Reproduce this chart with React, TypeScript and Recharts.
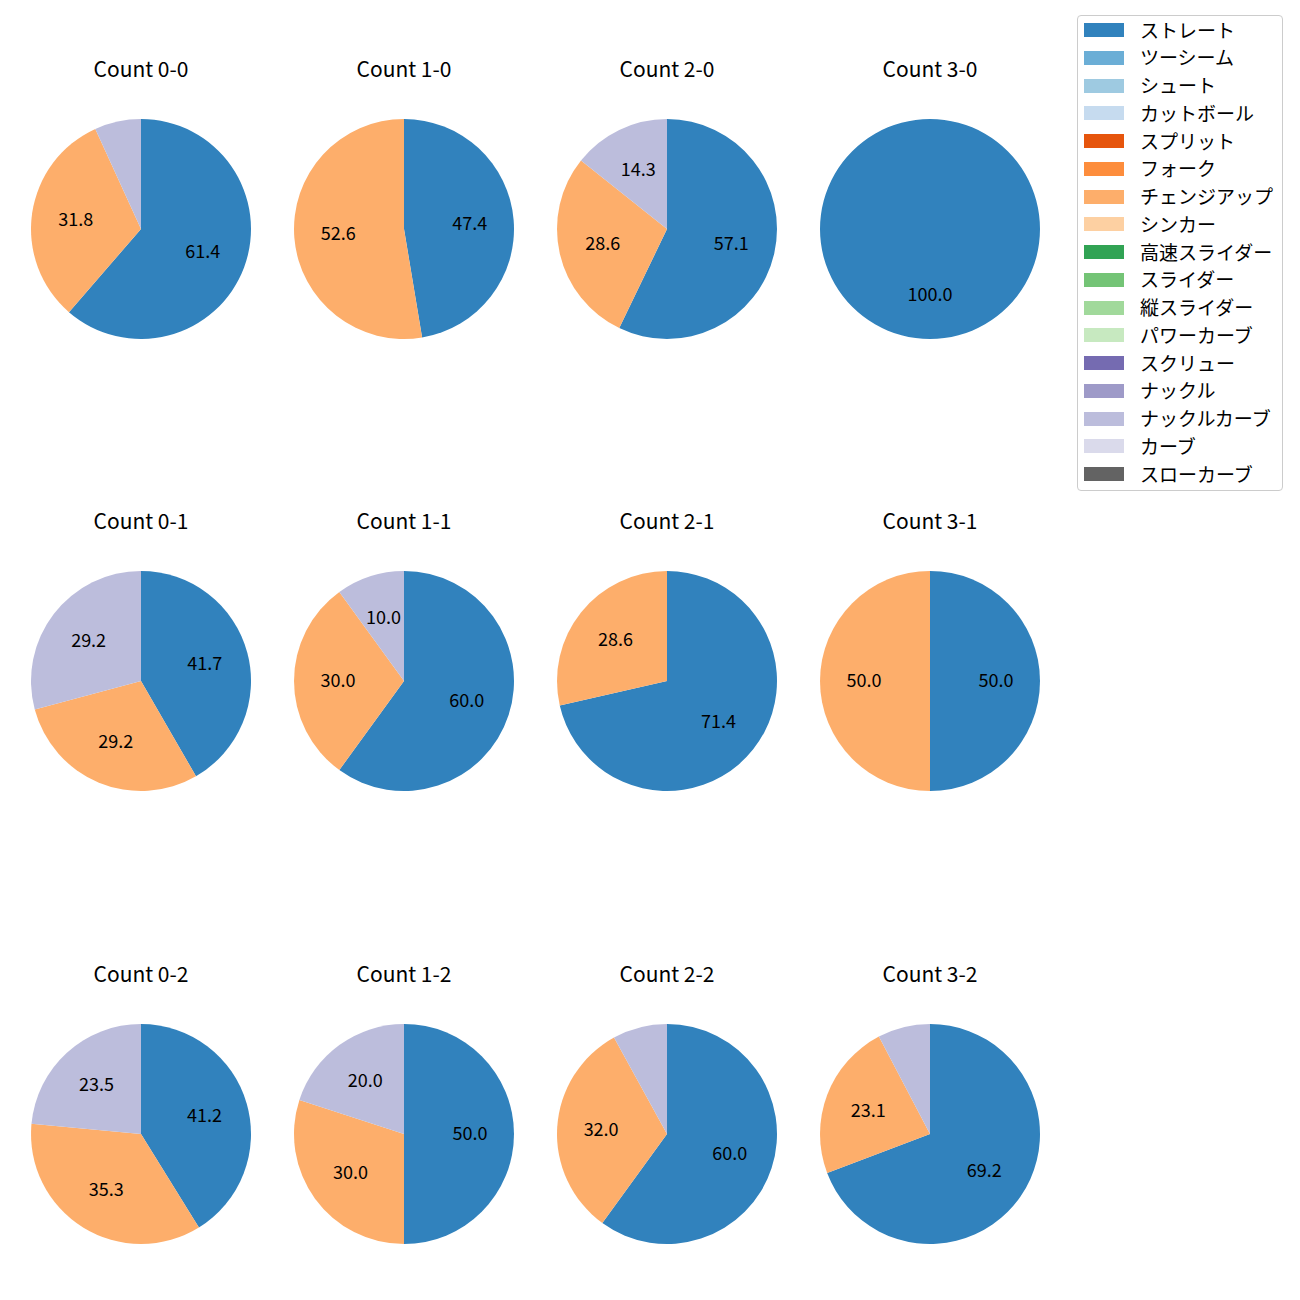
import React from 'react';
import { PieChart, Pie, Cell } from 'recharts';

const pitchNames = [
  'ストレート', 'ツーシーム', 'シュート', 'カットボール', 'スプリット', 'フォーク',
  'チェンジアップ', 'シンカー', '高速スライダー', 'スライダー', '縦スライダー',
  'パワーカーブ', 'スクリュー', 'ナックル', 'ナックルカーブ', 'カーブ', 'スローカーブ',
];
const pitchColors = [
  '#3182bd', '#6baed6', '#9ecae1', '#c6dbef', '#e6550d', '#fd8d3c',
  '#fdae6b', '#fdd0a2', '#31a354', '#74c476', '#a1d99b',
  '#c7e9c0', '#756bb1', '#9e9ac8', '#bcbddc', '#dadaeb', '#636363',
];

const counts = ['0-0', '1-0', '2-0', '3-0', '0-1', '1-1', '2-1', '3-1', '0-2', '1-2', '2-2', '3-2'];
// pitch counts: ストレート, チェンジアップ, ナックルカーブ
const straight = [27, 9, 4, 1, 10, 6, 5, 1, 7, 5, 15, 9];
const changeup = [14, 10, 2, 0, 7, 3, 2, 1, 6, 3, 8, 3];
const knuckleCurve = [3, 0, 1, 0, 7, 1, 0, 0, 4, 2, 2, 1];

const colX = [141, 404, 667, 930];
const rowY = [229, 681, 1134];
const R = 110;
const FONT = '"Noto Sans CJK JP", "Noto Sans", sans-serif';

const RAD = Math.PI / 180;

const renderLabel = (p: any) => {
  if (p.percent < 0.095) return null;
  const r = p.outerRadius * 0.6;
  const x = p.cx + r * Math.cos(-p.midAngle * RAD);
  const y = p.cy + r * Math.sin(-p.midAngle * RAD);
  return (
    <text x={x} y={y - 2} textAnchor="middle" dominantBaseline="central" fontSize={18} fill="#000" fontFamily={FONT}>
      {(p.percent * 100).toFixed(1)}
    </text>
  );
};

export default function App() {
  return (
    <div style={{ position: 'absolute', left: 0, top: 0, width: 1300, height: 1300, background: '#fff', fontFamily: FONT }}>
      <PieChart width={1300} height={1300} margin={{ top: 0, right: 0, bottom: 0, left: 0 }}>
        {counts.map((c, i) => {
          const data = [
            { name: pitchNames[0], value: straight[i], color: pitchColors[0] },
            { name: pitchNames[6], value: changeup[i], color: pitchColors[6] },
            { name: pitchNames[14], value: knuckleCurve[i], color: pitchColors[14] },
          ].filter((d) => d.value > 0);
          return (
            <Pie
              key={c}
              data={data}
              dataKey="value"
              cx={colX[i % 4]}
              cy={rowY[Math.floor(i / 4)]}
              outerRadius={R}
              startAngle={90}
              endAngle={-270}
              stroke="none"
              label={renderLabel}
              labelLine={false}
              isAnimationActive={false}
            >
              {data.map((d) => (
                <Cell key={d.name} fill={d.color} />
              ))}
            </Pie>
          );
        })}
      </PieChart>
      {counts.map((c, i) => (
        <div
          key={c}
          style={{
            position: 'absolute',
            left: colX[i % 4] - 100,
            width: 200,
            top: rowY[Math.floor(i / 4)] - 174,
            textAlign: 'center',
            fontSize: 21,
            lineHeight: '26px',
            color: '#000',
          }}
        >
          {'Count ' + c}
        </div>
      ))}
      <div
        style={{
          position: 'absolute',
          left: 1077,
          top: 15,
          width: 204,
          height: 474,
          border: '1px solid #cccccc',
          borderRadius: 4,
          background: '#fff',
        }}
      >
        {pitchNames.map((n, i) => (
          <div key={n} style={{ position: 'absolute', left: 0, top: i * 27.75 - 1, height: 28, display: 'flex', alignItems: 'center' }}>
            <div style={{ marginLeft: 6, width: 40, height: 14, marginTop: 2, background: pitchColors[i] }} />
            <div style={{ marginLeft: 16, fontSize: 19, color: '#000', whiteSpace: 'nowrap' }}>{n}</div>
          </div>
        ))}
      </div>
    </div>
  );
}
